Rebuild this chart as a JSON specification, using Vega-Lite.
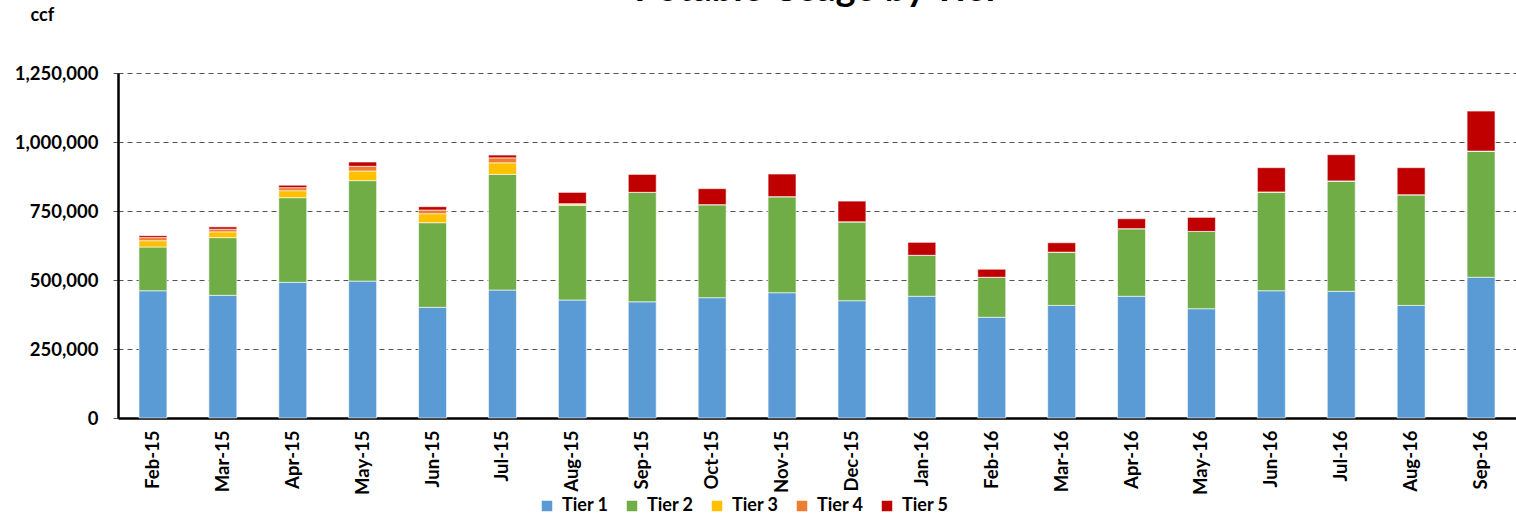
{
  "$schema": "https://vega.github.io/schema/vega-lite/v6.json",
  "autosize": "none",
  "width": 1398,
  "height": 345,
  "padding": {"left": 118, "top": 73, "right": 0, "bottom": 99},
  "background": "white",
  "title": {
    "text": "Potable Usage by Tier",
    "font": "Lato",
    "fontSize": 38,
    "fontWeight": "bold",
    "color": "black",
    "anchor": "middle",
    "frame": "group",
    "baseline": "alphabetic",
    "offset": 0,
    "dy": 33
  },
  "config": {
    "view": {"stroke": null},
    "font": "Lato"
  },
  "data": {
    "values": [
      {"month": "Feb-15", "tier": "Tier 1", "value": 461000},
      {"month": "Feb-15", "tier": "Tier 2", "value": 158500},
      {"month": "Feb-15", "tier": "Tier 3", "value": 23000},
      {"month": "Feb-15", "tier": "Tier 4", "value": 11000},
      {"month": "Feb-15", "tier": "Tier 5", "value": 7000},
      {"month": "Mar-15", "tier": "Tier 1", "value": 444500},
      {"month": "Mar-15", "tier": "Tier 2", "value": 209000},
      {"month": "Mar-15", "tier": "Tier 3", "value": 21000},
      {"month": "Mar-15", "tier": "Tier 4", "value": 9600},
      {"month": "Mar-15", "tier": "Tier 5", "value": 8400},
      {"month": "Apr-15", "tier": "Tier 1", "value": 491600},
      {"month": "Apr-15", "tier": "Tier 2", "value": 306600},
      {"month": "Apr-15", "tier": "Tier 3", "value": 25500},
      {"month": "Apr-15", "tier": "Tier 4", "value": 10900},
      {"month": "Apr-15", "tier": "Tier 5", "value": 9000},
      {"month": "May-15", "tier": "Tier 1", "value": 496000},
      {"month": "May-15", "tier": "Tier 2", "value": 364000},
      {"month": "May-15", "tier": "Tier 3", "value": 35000},
      {"month": "May-15", "tier": "Tier 4", "value": 17000},
      {"month": "May-15", "tier": "Tier 5", "value": 15500},
      {"month": "Jun-15", "tier": "Tier 1", "value": 401000},
      {"month": "Jun-15", "tier": "Tier 2", "value": 306600},
      {"month": "Jun-15", "tier": "Tier 3", "value": 32600},
      {"month": "Jun-15", "tier": "Tier 4", "value": 13400},
      {"month": "Jun-15", "tier": "Tier 5", "value": 12000},
      {"month": "Jul-15", "tier": "Tier 1", "value": 463700},
      {"month": "Jul-15", "tier": "Tier 2", "value": 419000},
      {"month": "Jul-15", "tier": "Tier 3", "value": 42000},
      {"month": "Jul-15", "tier": "Tier 4", "value": 18000},
      {"month": "Jul-15", "tier": "Tier 5", "value": 10000},
      {"month": "Aug-15", "tier": "Tier 1", "value": 427500},
      {"month": "Aug-15", "tier": "Tier 2", "value": 343000},
      {"month": "Aug-15", "tier": "Tier 3", "value": 4000},
      {"month": "Aug-15", "tier": "Tier 4", "value": 2000},
      {"month": "Aug-15", "tier": "Tier 5", "value": 41000},
      {"month": "Sep-15", "tier": "Tier 1", "value": 421000},
      {"month": "Sep-15", "tier": "Tier 2", "value": 396600},
      {"month": "Sep-15", "tier": "Tier 3", "value": 0},
      {"month": "Sep-15", "tier": "Tier 4", "value": 0},
      {"month": "Sep-15", "tier": "Tier 5", "value": 65000},
      {"month": "Oct-15", "tier": "Tier 1", "value": 436000},
      {"month": "Oct-15", "tier": "Tier 2", "value": 337000},
      {"month": "Oct-15", "tier": "Tier 3", "value": 0},
      {"month": "Oct-15", "tier": "Tier 4", "value": 0},
      {"month": "Oct-15", "tier": "Tier 5", "value": 58000},
      {"month": "Nov-15", "tier": "Tier 1", "value": 454000},
      {"month": "Nov-15", "tier": "Tier 2", "value": 348000},
      {"month": "Nov-15", "tier": "Tier 3", "value": 0},
      {"month": "Nov-15", "tier": "Tier 4", "value": 0},
      {"month": "Nov-15", "tier": "Tier 5", "value": 82000},
      {"month": "Dec-15", "tier": "Tier 1", "value": 425000},
      {"month": "Dec-15", "tier": "Tier 2", "value": 286000},
      {"month": "Dec-15", "tier": "Tier 3", "value": 0},
      {"month": "Dec-15", "tier": "Tier 4", "value": 0},
      {"month": "Dec-15", "tier": "Tier 5", "value": 75000},
      {"month": "Jan-16", "tier": "Tier 1", "value": 441000},
      {"month": "Jan-16", "tier": "Tier 2", "value": 148500},
      {"month": "Jan-16", "tier": "Tier 3", "value": 0},
      {"month": "Jan-16", "tier": "Tier 4", "value": 0},
      {"month": "Jan-16", "tier": "Tier 5", "value": 47000},
      {"month": "Feb-16", "tier": "Tier 1", "value": 365000},
      {"month": "Feb-16", "tier": "Tier 2", "value": 145000},
      {"month": "Feb-16", "tier": "Tier 3", "value": 0},
      {"month": "Feb-16", "tier": "Tier 4", "value": 0},
      {"month": "Feb-16", "tier": "Tier 5", "value": 29000},
      {"month": "Mar-16", "tier": "Tier 1", "value": 408000},
      {"month": "Mar-16", "tier": "Tier 2", "value": 193000},
      {"month": "Mar-16", "tier": "Tier 3", "value": 0},
      {"month": "Mar-16", "tier": "Tier 4", "value": 0},
      {"month": "Mar-16", "tier": "Tier 5", "value": 34000},
      {"month": "Apr-16", "tier": "Tier 1", "value": 441000},
      {"month": "Apr-16", "tier": "Tier 2", "value": 245000},
      {"month": "Apr-16", "tier": "Tier 3", "value": 0},
      {"month": "Apr-16", "tier": "Tier 4", "value": 0},
      {"month": "Apr-16", "tier": "Tier 5", "value": 36000},
      {"month": "May-16", "tier": "Tier 1", "value": 396000},
      {"month": "May-16", "tier": "Tier 2", "value": 280000},
      {"month": "May-16", "tier": "Tier 3", "value": 0},
      {"month": "May-16", "tier": "Tier 4", "value": 0},
      {"month": "May-16", "tier": "Tier 5", "value": 51000},
      {"month": "Jun-16", "tier": "Tier 1", "value": 461000},
      {"month": "Jun-16", "tier": "Tier 2", "value": 358000},
      {"month": "Jun-16", "tier": "Tier 3", "value": 0},
      {"month": "Jun-16", "tier": "Tier 4", "value": 0},
      {"month": "Jun-16", "tier": "Tier 5", "value": 88000},
      {"month": "Jul-16", "tier": "Tier 1", "value": 459000},
      {"month": "Jul-16", "tier": "Tier 2", "value": 400000},
      {"month": "Jul-16", "tier": "Tier 3", "value": 0},
      {"month": "Jul-16", "tier": "Tier 4", "value": 0},
      {"month": "Jul-16", "tier": "Tier 5", "value": 95000},
      {"month": "Aug-16", "tier": "Tier 1", "value": 408000},
      {"month": "Aug-16", "tier": "Tier 2", "value": 401000},
      {"month": "Aug-16", "tier": "Tier 3", "value": 0},
      {"month": "Aug-16", "tier": "Tier 4", "value": 0},
      {"month": "Aug-16", "tier": "Tier 5", "value": 98000},
      {"month": "Sep-16", "tier": "Tier 1", "value": 510000},
      {"month": "Sep-16", "tier": "Tier 2", "value": 457000},
      {"month": "Sep-16", "tier": "Tier 3", "value": 0},
      {"month": "Sep-16", "tier": "Tier 4", "value": 0},
      {"month": "Sep-16", "tier": "Tier 5", "value": 145000}
    ]
  },
  "mark": {"type": "bar", "stroke": "white", "strokeWidth": 1, "strokeOpacity": 0.6},
  "encoding": {
    "x": {
      "field": "month",
      "type": "nominal",
      "sort": null,
      "scale": {"paddingInner": 0.6, "paddingOuter": 0.3},
      "axis": {
        "title": null,
        "labelAngle": -90,
        "labelFont": "Lato",
        "labelFontSize": 18.5,
        "labelFontWeight": "bold",
        "labelColor": "black",
        "labelPadding": 12,
        "ticks": false,
        "domainColor": "black",
        "domainWidth": 2.5
      }
    },
    "y": {
      "field": "value",
      "type": "quantitative",
      "stack": "zero",
      "scale": {"domain": [0, 1250000], "nice": false},
      "axis": {
        "title": "ccf",
        "titleAngle": 0,
        "titleX": -88,
        "titleY": -49,
        "titleAlign": "left",
        "titleFont": "Lato",
        "titleFontSize": 18,
        "titleFontWeight": "bold",
        "titleColor": "black",
        "values": [0, 250000, 500000, 750000, 1000000, 1250000],
        "format": ",.0f",
        "labelFont": "Lato",
        "labelFontSize": 18.5,
        "labelFontWeight": "bold",
        "labelColor": "black",
        "labelPadding": 15,
        "ticks": true,
        "tickSize": 5,
        "tickColor": "#555555",
        "domainColor": "black",
        "domainWidth": 2.5,
        "gridColor": "#555555",
        "gridDash": [5, 4],
        "gridWidth": 1
      }
    },
    "color": {
      "field": "tier",
      "type": "nominal",
      "scale": {
        "domain": ["Tier 1", "Tier 2", "Tier 3", "Tier 4", "Tier 5"],
        "range": ["#5B9BD5", "#70AD47", "#FFC000", "#ED7D31", "#C00000"]
      },
      "legend": {
        "title": null,
        "orient": "none",
        "direction": "horizontal",
        "legendX": 420,
        "legendY": 424,
        "symbolType": "square",
        "symbolSize": 110,
        "symbolStrokeWidth": 0,
        "labelFont": "Lato",
        "labelFontSize": 18,
        "labelFontWeight": "bold",
        "labelColor": "black",
        "columnPadding": 14,
        "labelOffset": 6
      }
    },
    "order": {"field": "tier", "type": "ordinal", "sort": "ascending"}
  }
}
